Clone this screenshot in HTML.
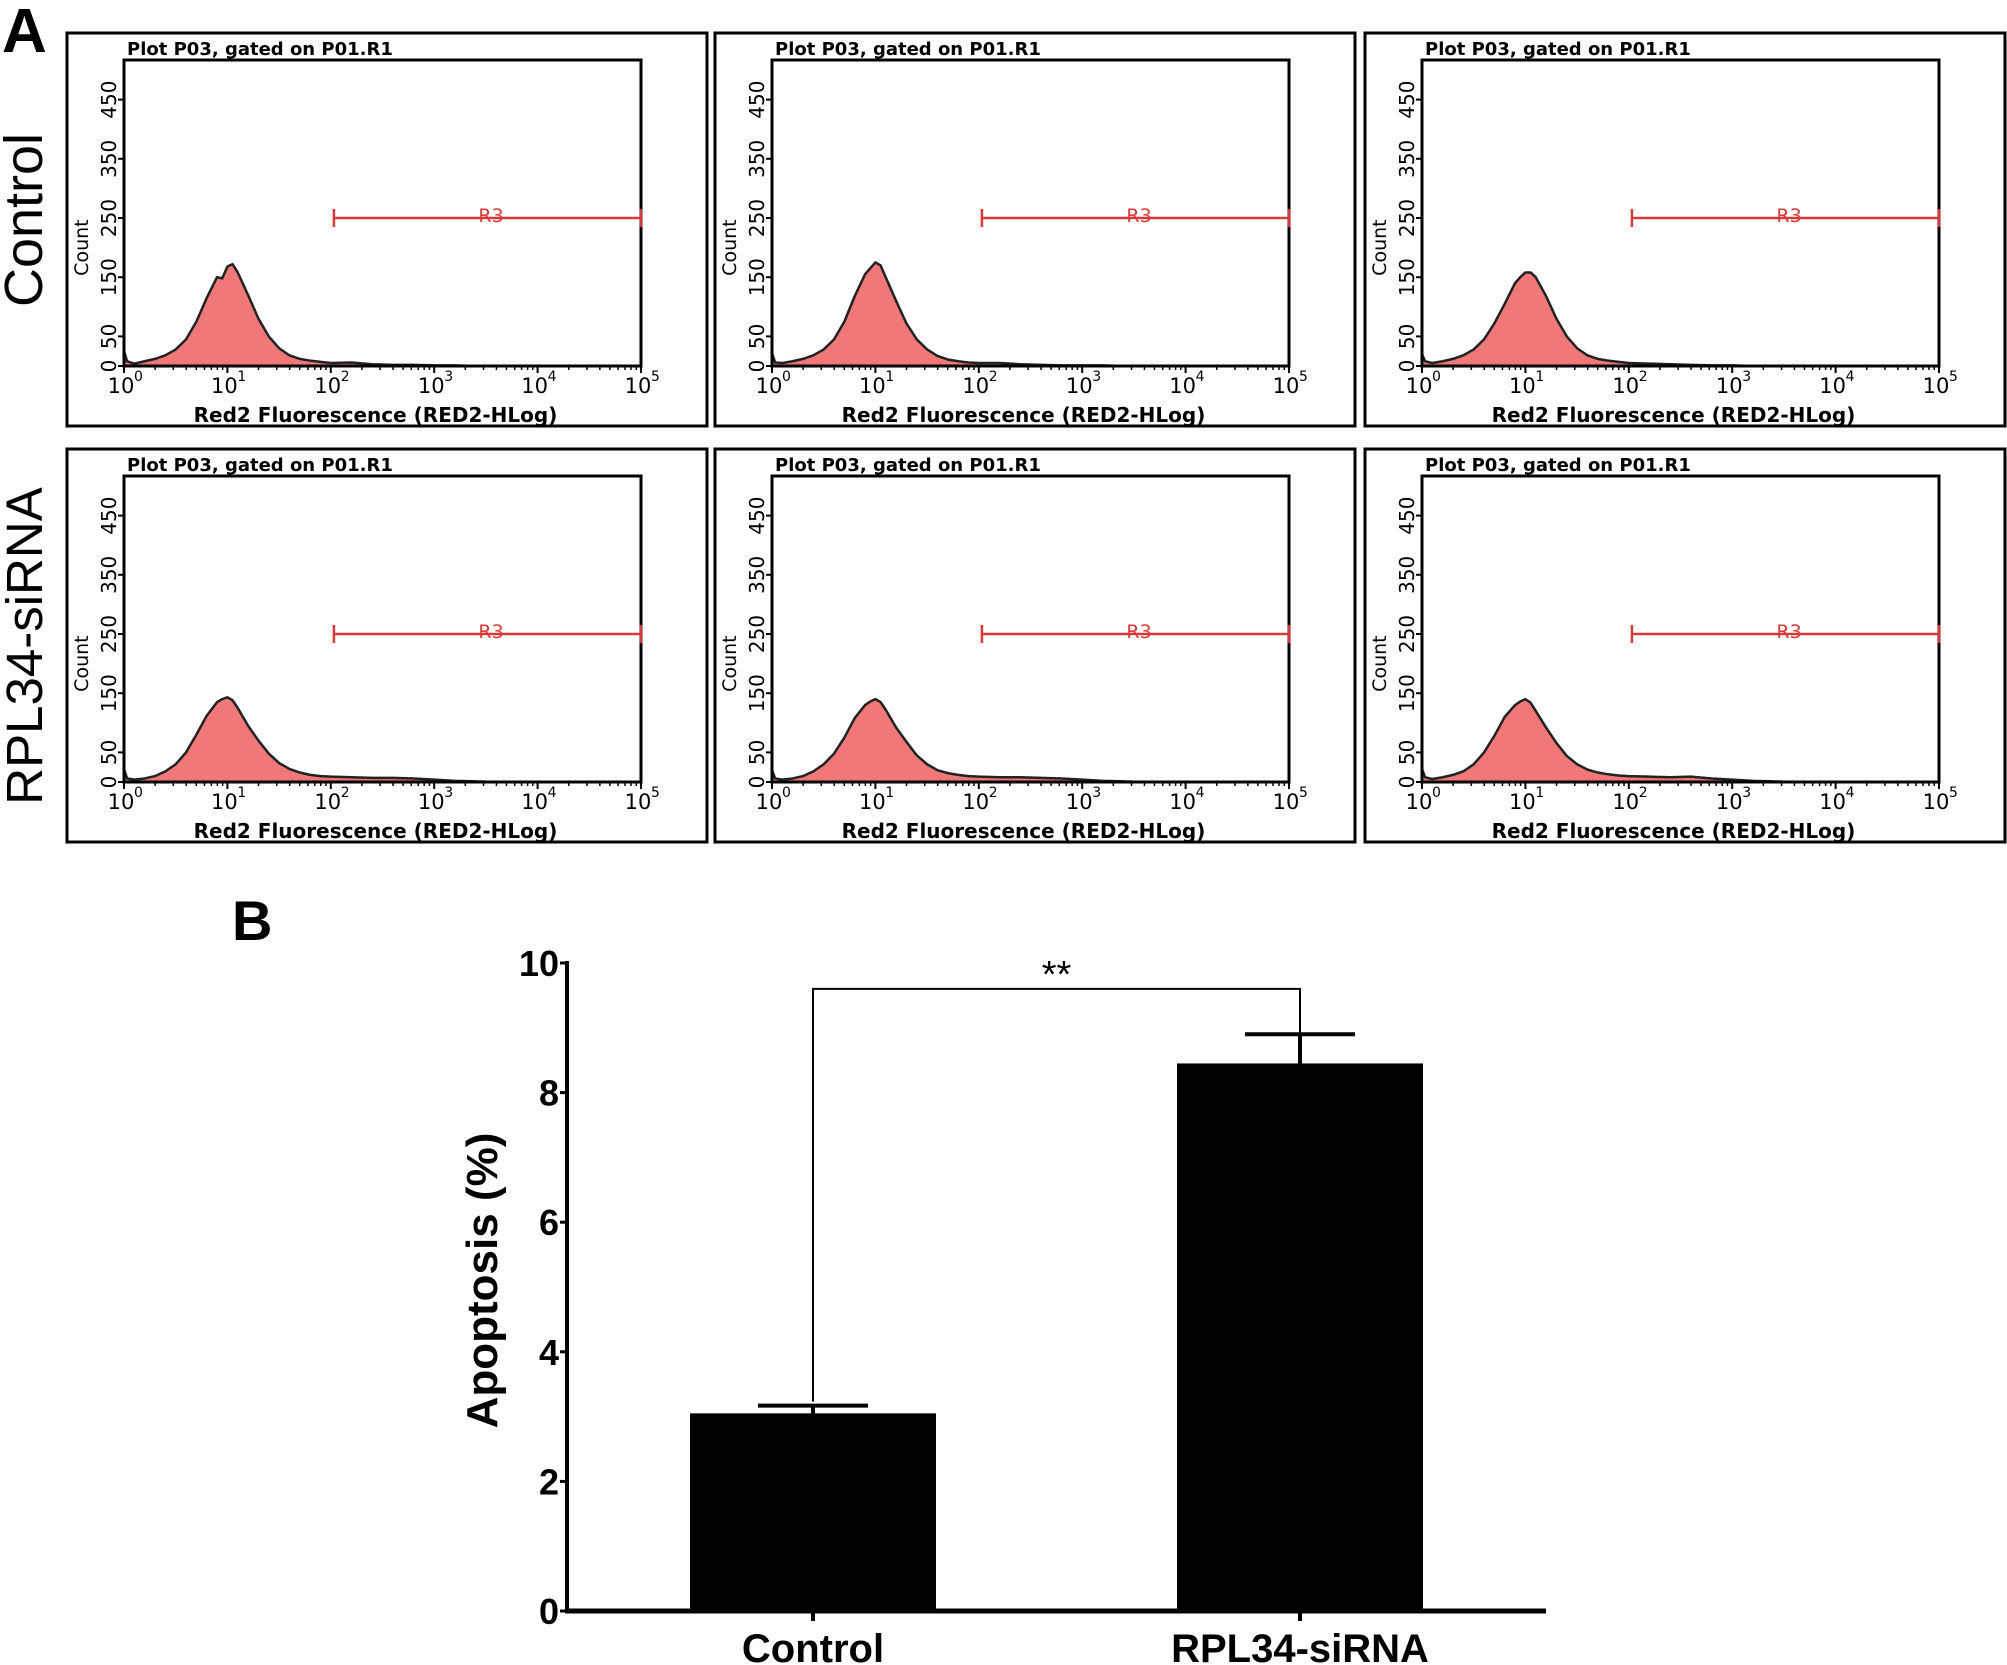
<!DOCTYPE html>
<html><head><meta charset="utf-8"><style>
html,body{margin:0;padding:0;background:#fff}
svg{display:block}
text{font-family:"Liberation Sans","DejaVu Sans",sans-serif}
.pt{font-family:"DejaVu Sans","Liberation Sans",sans-serif}
</style></head><body>
<svg id="fig" width="2007" height="1665" viewBox="0 0 2007 1665" xmlns="http://www.w3.org/2000/svg">
<text x="2" y="52" font-size="62" font-weight="bold">A</text>
<text x="232" y="940" font-size="56" font-weight="bold">B</text>
<text transform="translate(42,220) rotate(-90)" text-anchor="middle" font-size="54">Control</text>
<text transform="translate(42,646) rotate(-90)" text-anchor="middle" font-size="51">RPL34-siRNA</text>
<g id="hists"></g>
<g id="bars"></g>
</svg>
<script>
// Histogram data: log10 fluorescence positions and counts per panel
const logX = [0,0.03,0.1,0.2,0.3,0.4,0.5,0.6,0.7,0.8,0.9,0.95,1.0,1.05,1.1,1.2,1.3,1.4,1.5,1.6,1.7,1.8,1.9,2.0,2.2,2.4,2.6,2.8,3.0,3.2,3.4,3.6];
const ctrl1 = [25,8,4,8,12,18,28,45,75,115,150,148,168,172,158,120,80,50,30,18,12,9,7,5,6,3,2,2,1,1,0,0];
const ctrl2 = [22,6,5,8,12,18,28,45,75,118,155,165,175,170,150,110,72,45,28,17,11,8,6,5,5,3,2,1,1,1,0,0];
const ctrl3 = [20,8,5,8,12,18,28,45,72,105,140,150,158,158,150,118,80,50,30,18,12,9,7,5,4,3,2,1,1,0,0,0];
const rna1 = [22,6,4,6,10,18,30,50,80,112,135,140,143,138,125,95,70,48,32,22,16,12,10,9,8,7,7,6,4,2,1,0];
const rna2 = [20,6,4,6,10,18,30,48,75,108,130,136,140,135,122,92,68,45,30,20,15,12,10,9,8,8,7,6,4,2,1,0];
const rna3 = [22,8,5,8,12,18,30,50,78,110,130,136,140,134,120,92,66,44,30,21,16,13,11,10,9,8,9,6,4,2,1,0];
const histSeries = [ctrl1,ctrl2,ctrl3,rna1,rna2,rna3];
const yTicks = [0,50,150,250,350,450];
const xDecades = [0,1,2,3,4,5];

// Bar chart data
const categories = ["Control","RPL34-siRNA"];
const means = [3.05,8.45];
const errs = [0.12,0.45];
const barTicks = [0,2,4,6,8,10];

const NS="http://www.w3.org/2000/svg";
function mk(tag,attrs,parent,txt){const e=document.createElementNS(NS,tag);for(const k in attrs)e.setAttribute(k,attrs[k]);if(txt!==undefined)e.textContent=txt;parent.appendChild(e);return e;}

const hg=document.getElementById('hists');
histSeries.forEach((ser,i)=>{
  const col=i%3,row=Math.floor(i/3);
  const ox=648*col+(col==2?2:0), oy=416*row;
  const g=mk('g',{transform:`translate(${ox},${oy})`},hg);
  
  
  const L=124,R=641,T=60,B=366;
  const sx=v=>L+(R-L)*v/5;
  const sy=c=>B-c*0.592;
  const frame=mk('rect',{x:67,y:33,width:640,height:393,fill:'none',stroke:'#000','stroke-width':3},g);
  
  
  const t=mk('text',{class:'pt',x:127,y:55,'font-size':18,'font-weight':'bold'},g,'Plot P03, gated on P01.R1');
  
  
  let d=`M${sx(logX[0])},${sy(0)}`;
  logX.forEach((v,k)=>{d+=` L${sx(v)},${sy(ser[k])}`;});
  d+=` L${sx(logX[logX.length-1])},${sy(0)} Z`;
  const p=mk('path',{d:d,fill:'#f07878',stroke:'#222','stroke-width':2.5,'stroke-linejoin':'round'},g);
  
  
  const ax=mk('rect',{x:L,y:T,width:R-L,height:B-T,fill:'none',stroke:'#000','stroke-width':3},g);
  
  
  const gy=sy(250);
  const gate=mk('g',{stroke:'#d83a3a','stroke-width':2.5},g);
  
  
  mk('line',{x1:sx(2.03),y1:gy,x2:sx(5),y2:gy},gate);
  mk('line',{x1:sx(2.03),y1:gy-9,x2:sx(2.03),y2:gy+9},gate);
  mk('line',{x1:sx(5),y1:gy-9,x2:sx(5),y2:gy+9},gate);
  const r3=mk('text',{class:'pt',x:sx(3.55),y:gy+4,'font-size':19,fill:'#d83a3a','text-anchor':'middle'},g,'R3');
  
  
  yTicks.forEach(v=>{
    mk('line',{x1:L-6,y1:sy(v),x2:L,y2:sy(v),stroke:'#000','stroke-width':2},g);
    const yt=mk('text',{class:'pt',transform:`translate(${L-8},${sy(v)}) rotate(-90)`,'text-anchor':'middle','font-size':20},g,String(v));
    
    
  });
  const cl=mk('text',{class:'pt',transform:`translate(88,${sy(200)}) rotate(-90)`,'text-anchor':'middle','font-size':19},g,'Count');
  
  
  xDecades.forEach(v=>{
    mk('line',{x1:sx(v),y1:B,x2:sx(v),y2:B+7,stroke:'#000','stroke-width':2},g);
    for(let m=2;m<10&&v<5;m++){const xx=sx(v+Math.log10(m));mk('line',{x1:xx,y1:B,x2:xx,y2:B+4,stroke:'#000','stroke-width':1.5},g);}
    const xt=mk('text',{class:'pt',x:sx(v)-3,y:B+27,'text-anchor':'middle','font-size':21},g,'10');
    
    
    mk('text',{class:'pt',x:sx(v)+10,y:B+15,'font-size':14},g,String(v));
  });
  const xl=mk('text',{class:'pt',x:(L+R)/2-7,y:422,'text-anchor':'middle','font-size':20,'font-weight':'bold'},g,'Red2 Fluorescence (RED2-HLog)');
  
  
});

const bg=document.getElementById('bars');
const AX=567,Y0=1611,Y10=963,XE=1546;
const by=v=>Y0-(Y0-Y10)*v/10;
const centers=[813,1300],bw=246;


mk('line',{x1:AX,y1:by(10)-2,x2:AX,y2:Y0+2,stroke:'#000','stroke-width':4},bg);
mk('line',{x1:AX-2,y1:Y0,x2:XE,y2:Y0,stroke:'#000','stroke-width':5},bg);
barTicks.forEach(v=>{
  mk('line',{x1:AX-7,y1:by(v),x2:AX,y2:by(v),stroke:'#000','stroke-width':3},bg);
  const t=mk('text',{x:AX-8,y:by(v)+13,'text-anchor':'end','font-size':36,'font-weight':'bold'},bg,String(v));
  
  
});
const yt=mk('text',{transform:`translate(497,${by(5.1)}) rotate(-90)`,'text-anchor':'middle','font-size':44,'font-weight':'bold'},bg,'Apoptosis (%)');


categories.forEach((c,i)=>{
  const cx=centers[i];
  const r=mk('rect',{x:cx-bw/2,y:by(means[i]),width:bw,height:Y0-by(means[i]),fill:'#000'},bg);
  
  
  const e=by(means[i]+errs[i]);
  const eb=mk('g',{stroke:'#000','stroke-width':4},bg);
  
  
  mk('line',{x1:cx,y1:by(means[i]),x2:cx,y2:e},eb);
  mk('line',{x1:cx-55,y1:e,x2:cx+55,y2:e},eb);
  mk('line',{x1:cx,y1:Y0,x2:cx,y2:Y0+10},eb);
  const l=mk('text',{x:cx,y:1662,'text-anchor':'middle','font-size':40,'font-weight':'bold'},bg,c);
  
  
});
const sig=mk('path',{d:`M${centers[0]},${by(means[0]+errs[0])-4} V${by(9.6)} H${centers[1]} V${by(means[1]+errs[1])}`,fill:'none',stroke:'#000','stroke-width':2},bg);


const st=mk('text',{x:(centers[0]+centers[1])/2,y:by(9.6)-2,'text-anchor':'middle','font-size':38},bg,'**');


</script>
</body></html>
